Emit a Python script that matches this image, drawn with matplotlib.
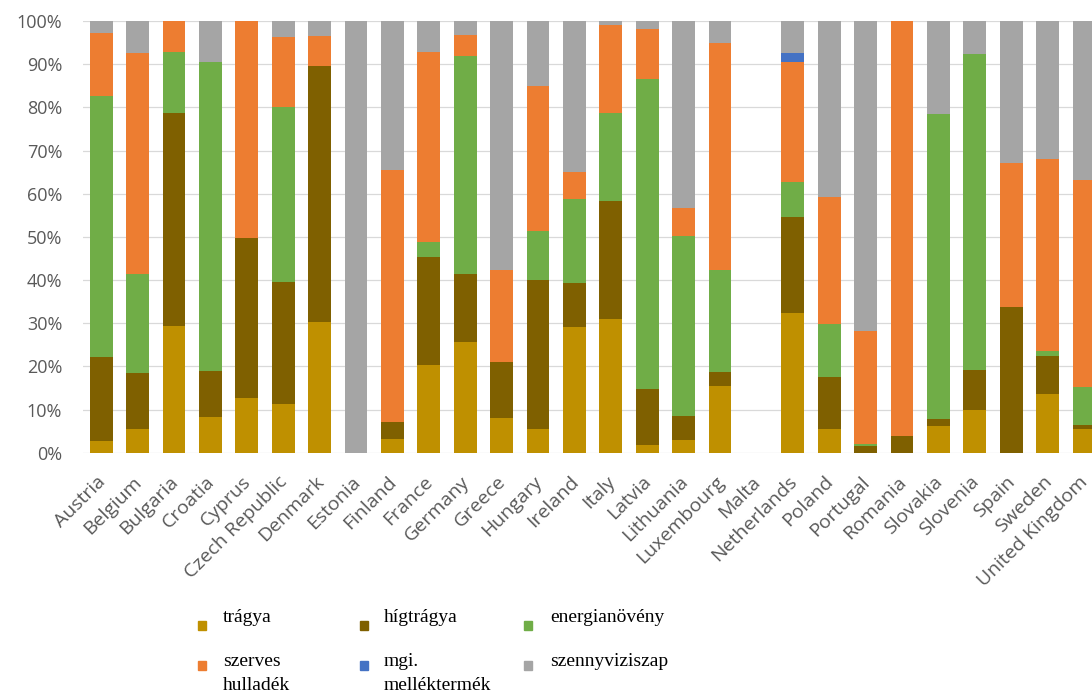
import matplotlib
matplotlib.use("Agg")
import matplotlib.pyplot as plt
import matplotlib.transforms as mtransforms
from matplotlib.patches import Rectangle
import numpy as np

countries = ["Austria", "Belgium", "Bulgaria", "Croatia", "Cyprus", "Czech Republic",
             "Denmark", "Estonia", "Finland", "France", "Germany", "Greece", "Hungary",
             "Ireland", "Italy", "Latvia", "Lithuania", "Luxembourg", "Malta",
             "Netherlands", "Poland", "Portugal", "Romania", "Slovakia", "Slovenia",
             "Spain", "Sweden", "United Kingdom"]

tragya =        [2.8, 5.6, 29.3, 8.3, 12.7, 11.3, 30.3, 0, 3.2, 20.4, 25.6, 8.0, 5.6,
                 29.2, 31.0, 1.8, 2.9, 15.4, 0, 32.3, 5.6, 0, 0, 6.2, 9.9, 0, 13.6, 5.6]
higtragya =     [19.4, 12.8, 49.5, 10.7, 37.0, 28.2, 59.3, 0, 3.9, 24.9, 15.8, 13.1, 34.4,
                 10.0, 27.2, 12.9, 5.6, 3.3, 0, 22.4, 12.0, 1.5, 3.9, 1.5, 9.3, 33.8, 8.9, 0.8]
energianoveny = [60.5, 23.0, 14.1, 71.4, 0, 40.5, 0, 0, 0, 3.4, 50.6, 0, 11.4,
                 19.6, 20.6, 71.8, 41.7, 23.6, 0, 7.9, 12.1, 0.6, 0, 70.7, 73.2, 0, 1.1, 8.9]
szerves =       [14.6, 51.3, 7.1, 0, 50.3, 16.2, 6.9, 0, 58.3, 44.2, 4.8, 21.2, 33.5,
                 6.3, 20.2, 11.6, 6.4, 52.5, 0, 28.0, 29.5, 26.2, 96.1, 0, 0, 33.2, 44.5, 47.9]
mgi =           [0, 0, 0, 0, 0, 0, 0, 0, 0, 0, 0, 0, 0,
                 0, 0, 0, 0, 0, 0, 2.1, 0, 0, 0, 0, 0, 0, 0, 0]
szennyviz =     [2.7, 7.3, 0, 9.6, 0, 3.8, 3.5, 100, 34.6, 7.1, 3.2, 57.7, 15.1,
                 34.9, 1.0, 1.9, 43.4, 5.2, 0, 7.3, 40.8, 71.7, 0, 21.6, 7.6, 33.0, 31.9, 36.8]

series_names = ["trágya", "hígtrágya", "energianövény", "szerves\nhulladék",
                "mgi.\nmelléktermék", "szennyviziszap"]
series = [tragya, higtragya, energianoveny, szerves, mgi, szennyviz]
colors = ["#BF9000", "#7F6000", "#70AD47", "#ED7D31", "#4472C4", "#A5A5A5"]

W, H = 1092, 695
fig = plt.figure(figsize=(W / 100, H / 100), dpi=100)
left = 83 / W
bottom = (H - 452.7) / H
height = (452.7 - 21) / H
width = 28 * 36.4 / W
ax = fig.add_axes([left, bottom, width, height])

x = np.arange(len(countries))
base = np.zeros(len(countries))
for vals, col in zip(series, colors):
    v = np.array(vals, dtype=float)
    ax.bar(x, v, bottom=base, width=0.63, color=col, zorder=3, linewidth=0)
    base += v

ax.set_xlim(-0.5, len(countries) - 0.5)
ax.set_ylim(0, 100)
ax.set_yticks(np.arange(0, 101, 10))
ax.set_yticklabels([f"{v}%" for v in range(0, 101, 10)])
ax.yaxis.grid(True, color="#D9D9D9", linewidth=0.9, zorder=0)
for s in ax.spines.values():
    s.set_visible(False)
ax.tick_params(axis="y", length=0, pad=15, labelsize=13, labelcolor="#595959")
ax.tick_params(axis="x", length=0, pad=0, labelsize=14, labelcolor="#595959")
for lab in ax.get_yticklabels():
    lab.set_fontfamily("Open Sans")

ax.set_xticks(x)
ax.set_xticklabels(countries, rotation=45, ha="right", rotation_mode="anchor",
                   fontfamily="Open Sans")
offset = mtransforms.ScaledTranslation(-5 / 100, -20 / 100, fig.dpi_scale_trans)
for lab in ax.get_xticklabels():
    lab.set_transform(lab.get_transform() + offset)

# custom legend
sq_x = [198, 360, 524]
tx_x = [223, 384, 550]
rows = [(625, 622), (665, 666)]
for i, (name, col) in enumerate(zip(series_names, colors)):
    r, c = divmod(i, 3)
    sq_cy, base_y = rows[r]
    fig.patches.append(Rectangle((sq_x[c] / W, (H - sq_cy - 4.5) / H), 8 / W, 9 / H,
                                 transform=fig.transFigure, color=col, figure=fig))
    lines = name.split("\n")
    for k, line in enumerate(lines):
        fig.text(tx_x[c] / W, (H - base_y - k * 24) / H, line, fontsize=14,
                 fontfamily="Liberation Serif", color="black", va="baseline", ha="left")

fig.savefig("out.png", dpi=100)
